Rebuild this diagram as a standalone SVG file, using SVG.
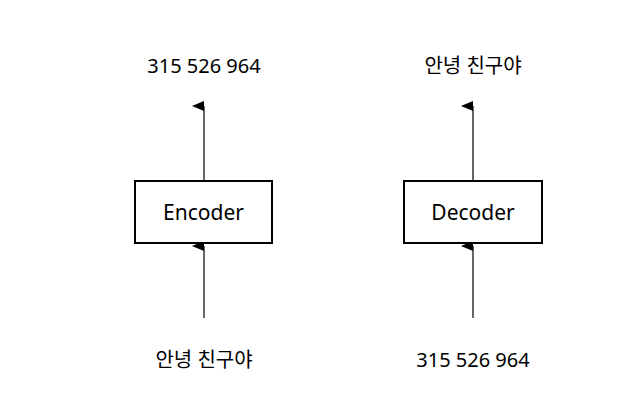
<svg xmlns="http://www.w3.org/2000/svg" width="633" height="415" viewBox="0 0 633 415">
<style>
.box{fill:#fff;stroke:#000;stroke-width:2}
.lbl{font-family:"Noto Sans","Noto Sans CJK KR",sans-serif;font-size:21px;text-anchor:middle;fill:#000}
.txt{font-family:"Noto Sans","Noto Sans CJK KR",sans-serif;font-size:20px;text-anchor:middle;fill:#000}
.ln{stroke:#000;stroke-width:1.2;fill:none;marker-end:url(#ah)}
</style>
<defs><marker id="ah" markerWidth="10" markerHeight="12" refX="5" refY="12" orient="auto-start-reverse" markerUnits="userSpaceOnUse" viewBox="0 0 10 12"><path d="M0,12 L5,0 L10,12 Z" fill="#000"/></marker></defs>
<rect width="633" height="415" fill="#fff"/>
<g id="connectors">
<path class="ln" d="M204,318 V246"/>
<path class="ln" d="M204,181 V106"/>
<path class="ln" d="M473,318 V246"/>
<path class="ln" d="M473,181 V106"/>
</g>
<g id="encoder"><rect class="box" x="135" y="181" width="137" height="62"/><text class="lbl" x="203.5" y="220">Encoder</text></g>
<g id="decoder"><rect class="box" x="404" y="181" width="138" height="62"/><text class="lbl" x="473" y="220">Decoder</text></g>
<g id="enc-out"><text class="txt" x="204" y="73">315 526 964</text></g>
<g id="enc-in"><text class="txt" x="204" y="367">안녕 친구야</text></g>
<g id="dec-out"><text class="txt" x="473" y="73">안녕 친구야</text></g>
<g id="dec-in"><text class="txt" x="473" y="367">315 526 964</text></g>
</svg>
